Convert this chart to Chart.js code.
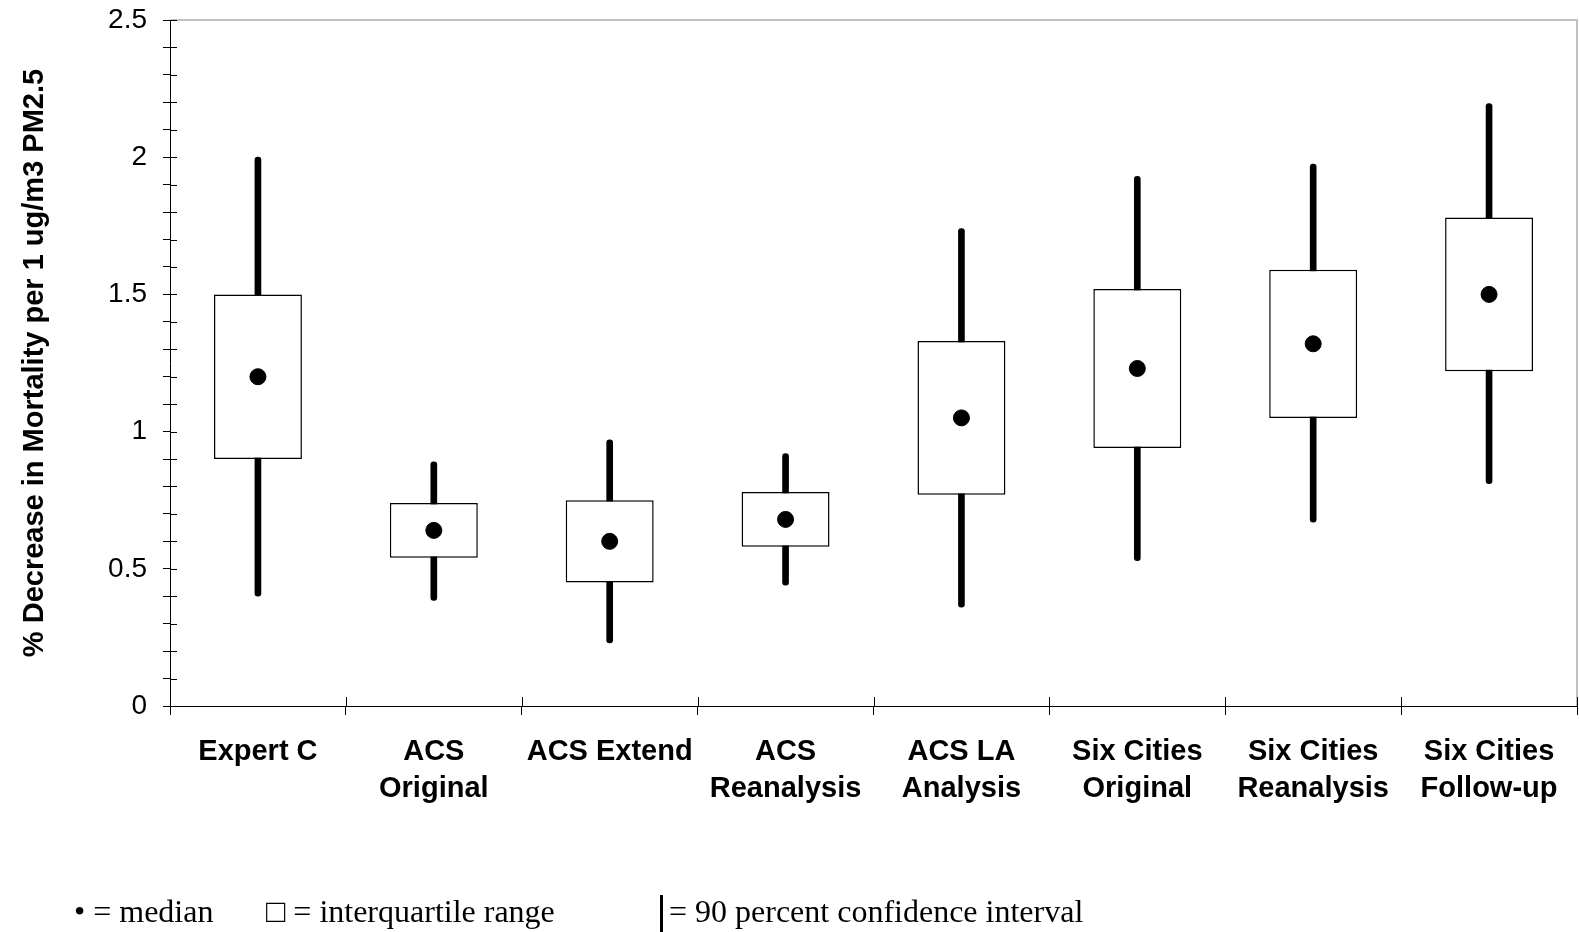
<!DOCTYPE html>
<html>
<head>
<meta charset="utf-8">
<script src="https://cdn.jsdelivr.net/npm/chart.js@4"></script>
<style>
  html, body { margin: 0; padding: 0; background: #fff; overflow: hidden; }
  #wrap { position: relative; width: 1579px; height: 932px; }
  #grafico { display: block; }
  #legende { position: absolute; left: 0; top: 893px; width: 1579px; height: 40px;
             font-family: "Liberation Serif", "Times New Roman", serif; font-size: 32px; color: #000; }
  #legende span { position: absolute; top: 0; white-space: nowrap; }
  #barra { position: absolute; left: 660px; top: 2px; width: 3px; height: 38px; background: #000; }
</style>
</head>
<body>
<div id="wrap">
  <canvas id="grafico" width="1579" height="932"></canvas>
  <div id="legende">
    <span style="left:74px">• = median</span>
    <span style="left:266px">□ = interquartile range</span>
    <div id="barra"></div>
    <span style="left:669px">= 90 percent confidence interval</span>
  </div>
</div>
<script>
// Categorias e valores
const categorias = [
  "Expert C", ["ACS", "Original"], "ACS Extend", ["ACS", "Reanalysis"],
  ["ACS LA", "Analysis"], ["Six Cities", "Original"], ["Six Cities", "Reanalysis"], ["Six Cities", "Follow-up"]
];
const mediana   = [1.20, 0.64, 0.60, 0.68, 1.05, 1.23, 1.32, 1.50];
const quartil1  = [0.90, 0.54, 0.45, 0.58, 0.77, 0.94, 1.05, 1.22];
const quartil3  = [1.50, 0.74, 0.75, 0.78, 1.33, 1.52, 1.59, 1.78];
const ic5       = [0.40, 0.385, 0.23, 0.44, 0.36, 0.53, 0.67, 0.81];
const ic95      = [2.00, 0.89, 0.97, 0.92, 1.74, 1.93, 1.975, 2.195];
const yTicks    = [0, 0.5, 1, 1.5, 2, 2.5];

// === Moldura cinza e ticks internos ===
const moldura = {
  id: "moldura",
  afterDraw(chart) {
    const { ctx, chartArea: a, scales } = chart;
    ctx.save();
    ctx.strokeStyle = "#c0c0c0";
    ctx.lineWidth = 2;
    ctx.beginPath();
    ctx.moveTo(a.left, a.top);
    ctx.lineTo(a.right, a.top);
    ctx.lineTo(a.right, a.bottom);
    ctx.stroke();

    ctx.strokeStyle = "#000";
    ctx.lineWidth = 1;
    ctx.beginPath();
    scales.y.ticks.forEach((t) => {
      const y = Math.round(scales.y.getPixelForValue(t.value)) + 0.5;
      ctx.moveTo(a.left, y);
      ctx.lineTo(a.left + 7, y);
    });
    const n = categorias.length;
    for (let i = 0; i <= n; i++) {
      const x = Math.round(scales.x.left + (i * scales.x.width) / n) + 0.5;
      ctx.moveTo(x, a.bottom);
      ctx.lineTo(x, a.bottom - 9);
    }
    ctx.stroke();
    ctx.restore();
  },
};

new Chart("grafico", {
  type: "bar",
  data: {
    labels: categorias,
    datasets: [
      {
        type: "line",
        data: mediana,
        showLine: false,
        pointRadius: 8,
        pointHoverRadius: 8,
        pointBackgroundColor: "#000",
        pointBorderColor: "#000",
        order: 1,
      },
      {
        data: quartil1.map((q, i) => [q, quartil3[i]]),
        backgroundColor: "#fff",
        borderColor: "#000",
        borderWidth: 1.5,
        borderSkipped: false,
        categoryPercentage: 1,
        barPercentage: 0.5,
        grouped: false,
        order: 2,
      },
      {
        data: ic5.map((v, i) => [v, ic95[i]]),
        backgroundColor: "#000",
        borderWidth: 0,
        barThickness: 6,
        borderRadius: 3,
        borderSkipped: false,
        grouped: false,
        order: 3,
      },
    ],
  },
  options: {
    responsive: false,
    animation: false,
    layout: { autoPadding: false, padding: { top: 20, right: 2, left: 0, bottom: 0 } },
    plugins: { legend: { display: false }, tooltip: { enabled: false } },
    scales: {
      x: {
        offset: true,
        grid: { display: true, drawOnChartArea: false, drawTicks: true, tickLength: 9, color: "#000", offset: true },
        border: { color: "#000", width: 1 },
        ticks: {
          color: "#000",
          padding: 18,
          maxRotation: 0,
          autoSkip: false,
          font: { family: "Liberation Sans, Arial, sans-serif", size: 29, weight: "bold", lineHeight: 1.28 },
        },
        afterFit: (scale) => {
          scale.height = 226;
          scale.paddingLeft = 0;
          scale.paddingRight = 0;
        },
      },
      y: {
        min: yTicks[0],
        max: yTicks[yTicks.length - 1],
        grid: { display: true, drawOnChartArea: false, drawTicks: true, tickLength: 7, color: "#000" },
        border: { color: "#000", width: 1 },
        ticks: {
          stepSize: 0.1,
          autoSkip: false,
          color: "#000",
          padding: 16,
          font: { family: "Liberation Sans, Arial, sans-serif", size: 28 },
          callback: (v) => (yTicks.some((t) => Math.abs(t - v) < 1e-6) ? String(Math.round(v * 10) / 10) : ""),
        },
        title: {
          display: true,
          text: "% Decrease in Mortality per 1 ug/m3 PM2.5",
          color: "#000",
          padding: { top: 18, bottom: 0 },
          font: { family: "Liberation Sans, Arial, sans-serif", size: 29, weight: "bold" },
        },
        afterFit: (scale) => {
          scale.width = 170;
          scale.paddingTop = 0;
          scale.paddingBottom = 0;
        },
      },
    },
  },
  plugins: [moldura],
});
</script>
</body>
</html>
